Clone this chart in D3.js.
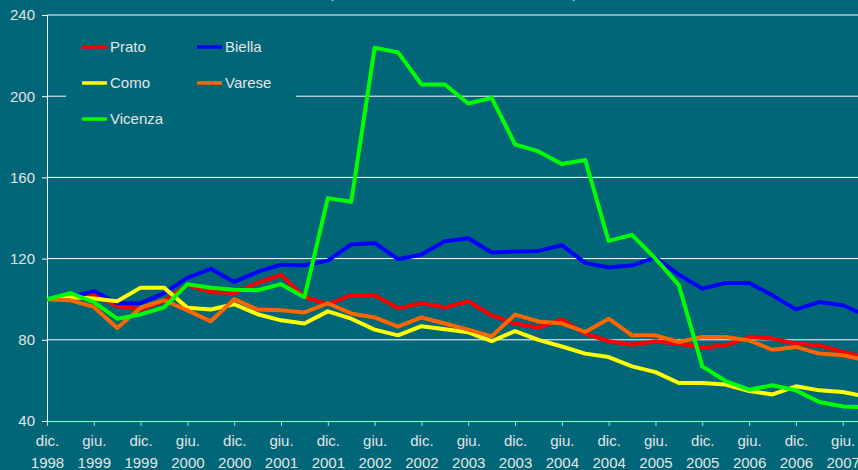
<!DOCTYPE html>
<html>
<head>
<meta charset="utf-8">
<script src="https://cdn.jsdelivr.net/npm/d3@7"></script>
<style>
  body { margin: 0; background: #006678; }
  svg { display: block; }
</style>
</head>
<body>
<script>
// trimestri: dic. 1998 ... set. 2007
let quarterLabels = [
  'dic. 1998', 'mar. 1999', 'giu. 1999', 'set. 1999', 'dic. 1999', 'mar. 2000', 'giu. 2000', 'set. 2000',
  'dic. 2000', 'mar. 2001', 'giu. 2001', 'set. 2001', 'dic. 2001', 'mar. 2002', 'giu. 2002', 'set. 2002',
  'dic. 2002', 'mar. 2003', 'giu. 2003', 'set. 2003', 'dic. 2003', 'mar. 2004', 'giu. 2004', 'set. 2004',
  'dic. 2004', 'mar. 2005', 'giu. 2005', 'set. 2005', 'dic. 2005', 'mar. 2006', 'giu. 2006', 'set. 2006',
  'dic. 2006', 'mar. 2007', 'giu. 2007', 'set. 2007'
]
let prato = [100, 100, 102.5, 96.5, 95, 99, 107, 103.5, 103, 108, 112, 101, 97.5, 102, 102, 95.5, 98, 96, 99, 92,
  88, 86, 90, 83, 79.3, 77.6, 79.3, 78.1, 76.1, 77.3, 81.4, 80.6, 78.1, 77.3, 74, 71.5]
let biella = [100, 101, 104, 98, 98, 103, 110.5, 115, 108.5, 113.5, 117, 116.7, 119, 127, 127.7, 119.7, 122, 128.5, 130, 123,
  123.5, 123.8, 126.6, 117.9, 115.6, 116.7, 120.5, 112.1, 105.2, 108, 108, 101.9, 95, 98.6, 97, 92]
let como = [100, 101, 100.3, 99, 105.7, 105.7, 95.8, 94.9, 97.5, 92.6, 89.6, 88, 94, 90.4, 85, 82.2, 86.7, 85.2, 83.7, 79.3,
  84.3, 80, 76.7, 73.2, 71.5, 66.9, 64.1, 58.7, 58.7, 58, 54.8, 53.1, 57.1, 55.1, 54.3, 52]
let varese = [100, 99.5, 96.2, 85.8, 95.8, 99.5, 94.5, 89.1, 100, 94.9, 94.5, 93.5, 98, 93, 91, 86.5, 91, 88, 85, 81.7,
  92.4, 89, 88, 83.9, 90.4, 82.2, 82.2, 78.9, 81.4, 81.4, 79.7, 75.1, 76.5, 73.2, 72.4, 70]
let vicenza = [100, 103, 98.6, 90.4, 92.5, 96, 107.4, 105.6, 104.7, 104.4, 107.4, 101, 149.8, 148, 223.9, 221.6, 205.8, 205.8, 196.4, 199.2,
  176.3, 172.8, 166.6, 168.6, 128.7, 131.7, 120, 106.9, 66.9, 59.7, 55.4, 57.6, 55.1, 49.4, 47.2, 46.8]
let yTicks = [40, 80, 120, 160, 200, 240]

let series = [
  { name: 'Prato', values: prato, color: '#ff0000' },
  { name: 'Biella', values: biella, color: '#0000ff' },
  { name: 'Como', values: como, color: '#ffff00' },
  { name: 'Varese', values: varese, color: '#ff6600' },
  { name: 'Vicenza', values: vicenza, color: '#00ff00' }
]

let width = 858
let height = 470
let bg = '#006678'
let textColor = '#e4e4e4'
let fontSize = 15
let left = 47

let x = d3.scaleLinear().domain([0, 34]).range([left, 842.7])
let y = d3.scaleLinear().domain([40, 240]).range([421, 15])

let svg = d3.select('body').append('svg')
  .attr('width', width)
  .attr('height', height)
  .style('font-family', 'Arial, "Liberation Sans", sans-serif')

// titolo (tagliato in alto, come nell'originale)
svg.append('text')
  .attr('x', 453).attr('y', -2)
  .attr('text-anchor', 'middle')
  .attr('font-size', fontSize)
  .attr('fill', textColor)
  .text('(numeri indice, dicembre 1998 = 100)')

// griglia
svg.append('g').selectAll('line')
  .data(yTicks.filter(d => d > 40))
  .enter().append('line')
  .attr('x1', left).attr('x2', width)
  .attr('y1', d => y(d)).attr('y2', d => y(d))
  .attr('stroke', '#ffffff')
  .attr('stroke-width', 1)

// asse x
let xAxis = svg.append('g')
  .attr('transform', 'translate(0,' + y(40) + ')')
  .call(d3.axisBottom(x).tickValues(d3.range(0, 35, 2)).tickSize(5).tickFormat(i => quarterLabels[i]))
xAxis.select('.domain').attr('stroke', '#d0d0d0').attr('d', 'M' + left + ',0.5H' + width)
xAxis.selectAll('.tick line').attr('stroke', '#d0d0d0')
xAxis.selectAll('.tick text').each(function (i) {
  let parts = quarterLabels[i].split(' ')
  let t = d3.select(this).text(null).attr('y', null).attr('dy', null)
    .attr('fill', textColor).attr('font-size', fontSize)
  t.append('tspan').attr('x', 0).attr('y', 25).text(parts[0])
  t.append('tspan').attr('x', 0).attr('y', 47).text(parts[1])
})

// asse y
let yAxis = svg.append('g')
  .attr('transform', 'translate(' + left + ',0)')
  .call(d3.axisLeft(y).tickValues(yTicks).tickSize(5).tickPadding(7))
yAxis.select('.domain').attr('stroke', '#ffffff').attr('d', 'M0.5,' + y(240) + 'V' + y(40))
yAxis.selectAll('.tick line').attr('stroke', '#ffffff')
yAxis.selectAll('.tick text').attr('fill', textColor).attr('font-size', fontSize)

// linee
let line = d3.line()
  .x((d, i) => x(i))
  .y(d => y(d))
svg.append('g').selectAll('path')
  .data(series)
  .enter().append('path')
  .attr('d', d => line(d.values))
  .attr('fill', 'none')
  .attr('stroke', d => d.color)
  .attr('stroke-width', 4)
  .attr('stroke-linejoin', 'round')

// legenda
let legend = svg.append('g')
legend.append('rect')
  .attr('x', 66).attr('y', 24).attr('width', 230).attr('height', 118)
  .attr('fill', bg)
let items = legend.selectAll('g.item')
  .data(series)
  .enter().append('g')
  .attr('class', 'item')
  .attr('transform', (d, i) => 'translate(' + (i % 2 ? 197 : 82) + ',' + (47 + Math.floor(i / 2) * 36) + ')')
items.append('line')
  .attr('x1', 0).attr('x2', 25)
  .attr('stroke', d => d.color)
  .attr('stroke-width', 3.5)
items.append('text')
  .attr('x', 28).attr('y', 5)
  .attr('font-size', fontSize)
  .attr('fill', textColor)
  .text(d => d.name)
</script>
</body>
</html>
